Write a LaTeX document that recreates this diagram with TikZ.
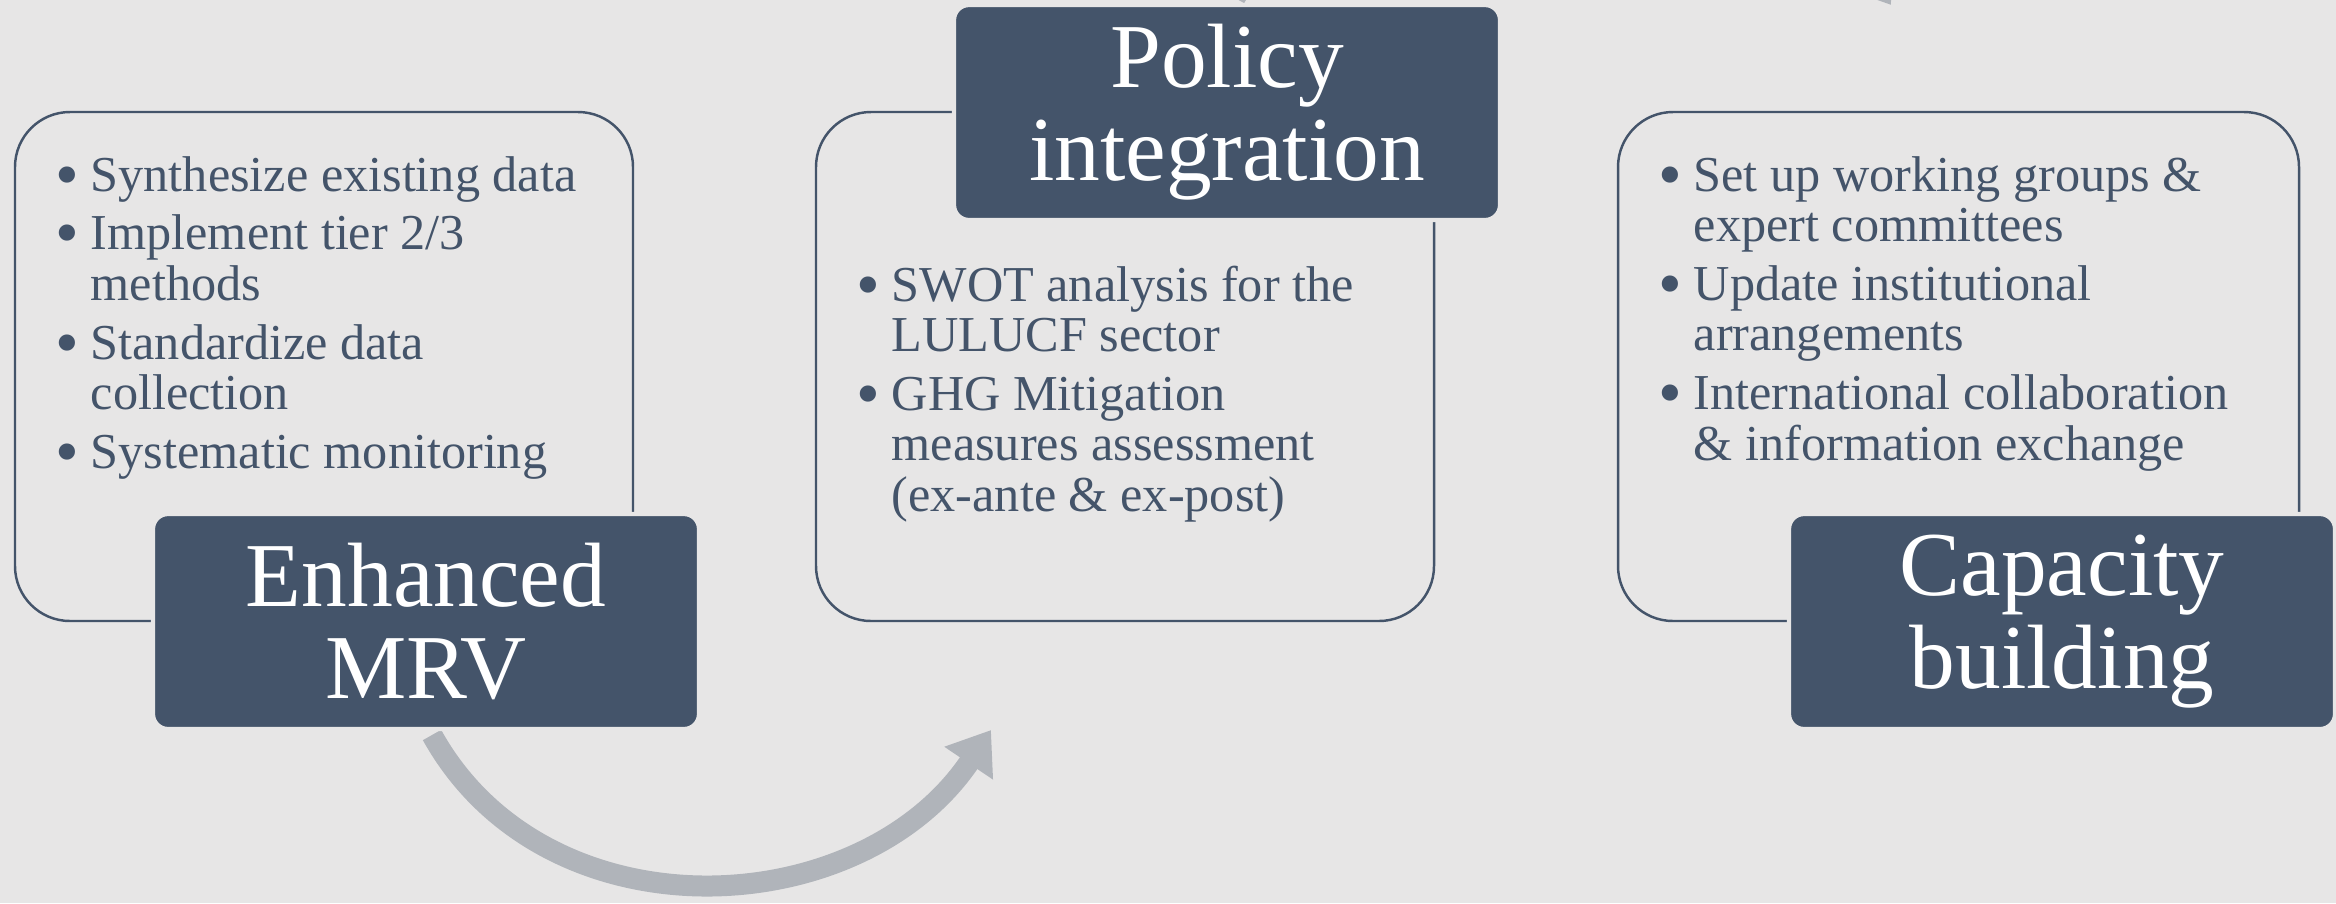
\documentclass[tikz,border=0pt]{standalone}
\usepackage{fontspec}
\setmainfont{Liberation Serif}
\usetikzlibrary{arrows.meta}
\definecolor{bg}{HTML}{E7E6E6}
\definecolor{navy}{HTML}{44546A}
\definecolor{arrowgray}{HTML}{B0B4BA}
\tikzset{panel/.style={draw=navy, line width=0.7pt, rounded corners=0.55cm, fill=bg, inner sep=0pt},
  header/.style={fill=navy, draw=bg, line width=1.2pt, rounded corners=0.15cm, text=white, align=center,
    minimum width=5.46cm, minimum height=2.15cm, inner sep=0pt, font=\fontsize{26}{26.4}\selectfont},
  points/.style={anchor=base west, inner sep=0pt, text=navy, font=\fontsize{14.3}{14.4}\selectfont},
  flow/.style={draw=arrowgray, line width=0.21cm, -{Triangle[length=0.4cm,width=0.56cm]}}}
\newcommand{\dotmark}{\makebox[0.29cm][l]{\hspace*{-0.06cm}\raisebox{-0.06cm}{\scalebox{1.35}{\textbullet}}}}

\begin{document}
\begin{tikzpicture}
  \useasboundingbox (0,0) rectangle (23.36,-9.03);
  \clip (0,0) rectangle (23.36,-9.03);
  \fill[bg] (0,0) rectangle (23.36,-9.03);

  \coordinate (s1) at (4.32,-7.35);
  \coordinate (e1) at (9.91,-7.30);
  \coordinate (s2) at (12.35,0.02);
  \coordinate (e2) at (18.91,-0.05);
  \draw[flow] (s1) to[out=-61,in=-124,looseness=1.07] (e1);
  \draw[flow] (s2) to[out=61,in=124,looseness=1.07] (e2);

  \node[panel, minimum width=6.18cm, minimum height=5.09cm] (p1) at (3.24,-3.665) {};
  \node[panel, minimum width=6.18cm, minimum height=5.09cm] (p2) at (11.25,-3.665) {};
  \node[panel, minimum width=6.81cm, minimum height=5.09cm] (p3) at (19.585,-3.665) {};

  \node[header] (mrv) at (4.26,-6.215) {Enhanced\\MRV};
  \node[header] (policy) at (12.27,-1.125) {Policy\\integration};
  \node[header] (capacity) at (20.62,-6.215) {Capacity\\building};

  \node[points] (mrvlist) at (0.61,-1.91) {\begin{tabular}[t]{@{}l@{}l@{}}
    \dotmark & Synthesize existing data\\[2.3pt]
    \dotmark & Implement tier 2/3\\
             & methods\\[2.3pt]
    \dotmark & Standardize data\\
             & collection\\[2.3pt]
    \dotmark & Systematic monitoring
  \end{tabular}};
  \node[points] (policylist) at (8.62,-3.01) {\begin{tabular}[t]{@{}l@{}l@{}}
    \dotmark & SWOT analysis for the\\
             & LULUCF sector\\[2.3pt]
    \dotmark & GHG Mitigation\\
             & measures assessment\\
             & (ex-ante \& ex-post)
  \end{tabular}};
  \node[points] (capacitylist) at (16.64,-1.91) {\begin{tabular}[t]{@{}l@{}l@{}}
    \dotmark & Set up working groups \&\\
             & expert committees\\[2.3pt]
    \dotmark & Update institutional\\
             & arrangements\\[2.3pt]
    \dotmark & International collaboration\\
             & \& information exchange
  \end{tabular}};
\end{tikzpicture}
\end{document}
